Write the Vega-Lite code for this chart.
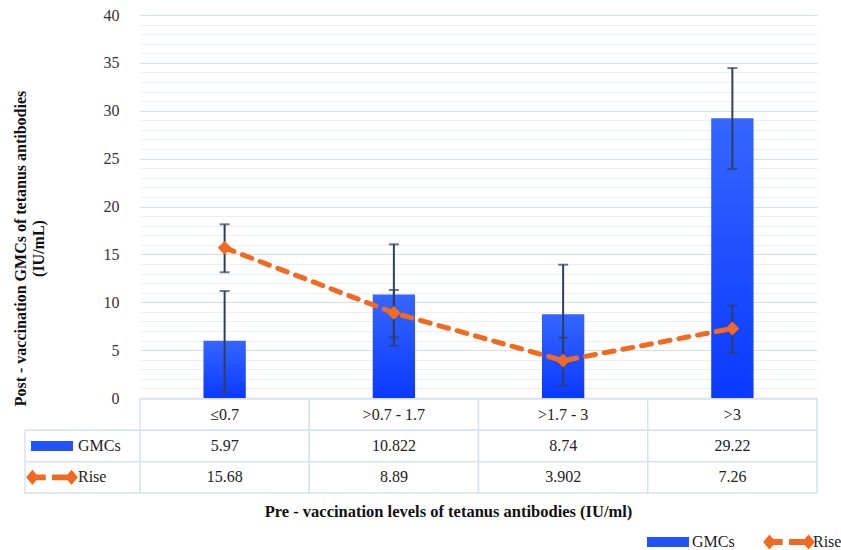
{
  "$schema": "https://vega.github.io/schema/vega-lite/v6.json",
  "width": 677,
  "height": 383,
  "autosize": {"type": "none"},
  "padding": {"left": 140, "top": 15, "right": 24, "bottom": 152},
  "background": "white",
  "config": {"view": {"stroke": null}, "font": "Liberation Serif"},
  "datasets": {
    "main": [
      {"cat": "≤0.7", "gmc": 5.97, "gmcLo": 0.6, "gmcHi": 11.17, "rise": 15.68, "riseLo": 13.13, "riseHi": 18.14},
      {"cat": ">0.7 - 1.7", "gmc": 10.822, "gmcLo": 5.46, "gmcHi": 16.05, "rise": 8.89, "riseLo": 6.34, "riseHi": 11.28},
      {"cat": ">1.7 - 3", "gmc": 8.74, "gmcLo": 3.56, "gmcHi": 13.92, "rise": 3.902, "riseLo": 1.28, "riseHi": 6.3},
      {"cat": ">3", "gmc": 29.22, "gmcLo": 23.92, "gmcHi": 34.46, "rise": 7.26, "riseLo": 4.67, "riseHi": 9.64}
    ],
    "cells": [
      {"cat": "≤0.7", "row": "Header", "label": "≤0.7"},
      {"cat": ">0.7 - 1.7", "row": "Header", "label": ">0.7 - 1.7"},
      {"cat": ">1.7 - 3", "row": "Header", "label": ">1.7 - 3"},
      {"cat": ">3", "row": "Header", "label": ">3"},
      {"cat": "≤0.7", "row": "GMCs", "label": "5.97"},
      {"cat": ">0.7 - 1.7", "row": "GMCs", "label": "10.822"},
      {"cat": ">1.7 - 3", "row": "GMCs", "label": "8.74"},
      {"cat": ">3", "row": "GMCs", "label": "29.22"},
      {"cat": "≤0.7", "row": "Rise", "label": "15.68"},
      {"cat": ">0.7 - 1.7", "row": "Rise", "label": "8.89"},
      {"cat": ">1.7 - 3", "row": "Rise", "label": "3.902"},
      {"cat": ">3", "row": "Rise", "label": "7.26"}
    ],
    "keys": [
      {"col": "key", "row": "GMCs", "series": "GMCs"},
      {"col": "key", "row": "Rise", "series": "Rise"}
    ]
  },
  "layer": [
    {
      "data": {"name": "main"},
      "layer": [
        {
          "mark": {
            "type": "bar",
            "width": {"band": 0.25},
            "color": {"gradient": "linear", "x1": 0, "y1": 0, "x2": 0, "y2": 1,
              "stops": [{"offset": 0, "color": "#3566ff"}, {"offset": 1, "color": "#0a39ff"}]}
          },
          "encoding": {
            "x": {
              "field": "cat", "type": "nominal", "sort": null,
              "scale": {"domain": ["≤0.7", ">0.7 - 1.7", ">1.7 - 3", ">3"], "paddingInner": 0, "paddingOuter": 0},
              "axis": {
                "title": "Pre - vaccination levels of tetanus antibodies (IU/ml)",
                "labels": false, "ticks": false, "domain": true, "domainColor": "#d6e0ea", "domainWidth": 1.5,
                "grid": false,
                "titleFont": "Liberation Serif", "titleFontSize": 16.5, "titleFontWeight": "bold", "titleColor": "#111",
                "titleX": 308, "titleY": 105, "titleAlign": "center", "titleBaseline": "top"
              }
            },
            "y": {
              "field": "gmc", "type": "quantitative",
              "scale": {"domain": [0, 40], "nice": false},
              "axis": {
                "values": [0,1,2,3,4,5,6,7,8,9,10,11,12,13,14,15,16,17,18,19,20,21,22,23,24,25,26,27,28,29,30,31,32,33,34,35,36,37,38,39,40],
                "tickCount": 60,
                "format": "d",
                "labelExpr": "datum.value % 5 === 0 ? datum.label : ''",
                "labelOverlap": false,
                "domain": false, "ticks": false, "labelPadding": 21,
                "labelFont": "Liberation Serif", "labelFontSize": 16, "labelColor": "#333",
                "gridColor": {"condition": {"test": "datum.value % 5 === 0", "value": "#d3e0ea"}, "value": "#eaf0f5"},
                "gridWidth": 1,
                "title": ["Post - vaccination GMCs of tetanus antibodies", "(IU/mL)"],
                "titleFont": "Liberation Serif", "titleFontSize": 16, "titleFontWeight": "bold", "titleColor": "#111",
                "titleAngle": -90, "titleX": -112, "titleY": 233, "titleAlign": "center", "titleBaseline": "bottom", "titleLineHeight": 18
              }
            }
          }
        },
        {
          "mark": {"type": "rule", "color": "#2e3f5e", "strokeWidth": 2},
          "encoding": {
            "x": {"field": "cat", "type": "nominal", "sort": null},
            "y": {"field": "gmcLo", "type": "quantitative"},
            "y2": {"field": "gmcHi"}
          }
        },
        {
          "mark": {"type": "tick", "orient": "horizontal", "size": 10, "thickness": 2, "color": "#2e3f5e"},
          "encoding": {
            "x": {"field": "cat", "type": "nominal", "sort": null},
            "y": {"field": "gmcLo", "type": "quantitative"}
          }
        },
        {
          "mark": {"type": "tick", "orient": "horizontal", "size": 10, "thickness": 2, "color": "#2e3f5e"},
          "encoding": {
            "x": {"field": "cat", "type": "nominal", "sort": null},
            "y": {"field": "gmcHi", "type": "quantitative"}
          }
        },
        {
          "mark": {"type": "rule", "color": "#2e3f5e", "strokeWidth": 2},
          "encoding": {
            "x": {"field": "cat", "type": "nominal", "sort": null},
            "y": {"field": "riseLo", "type": "quantitative"},
            "y2": {"field": "riseHi"}
          }
        },
        {
          "mark": {"type": "tick", "orient": "horizontal", "size": 10, "thickness": 2, "color": "#2e3f5e"},
          "encoding": {
            "x": {"field": "cat", "type": "nominal", "sort": null},
            "y": {"field": "riseLo", "type": "quantitative"}
          }
        },
        {
          "mark": {"type": "tick", "orient": "horizontal", "size": 10, "thickness": 2, "color": "#2e3f5e"},
          "encoding": {
            "x": {"field": "cat", "type": "nominal", "sort": null},
            "y": {"field": "riseHi", "type": "quantitative"}
          }
        },
        {
          "mark": {"type": "line", "color": "#F26A1F", "strokeWidth": 5, "strokeDash": [10, 9], "strokeCap": "round"},
          "encoding": {
            "x": {"field": "cat", "type": "nominal", "sort": null},
            "y": {"field": "rise", "type": "quantitative"}
          }
        },
        {
          "mark": {"type": "point", "shape": "diamond", "filled": true, "size": 190, "color": "#F26A1F", "opacity": 1},
          "encoding": {
            "x": {"field": "cat", "type": "nominal", "sort": null},
            "y": {"field": "rise", "type": "quantitative"}
          }
        }
      ]
    },
    {
      "data": {"name": "cells"},
      "layer": [
        {
          "mark": {"type": "rect", "fill": "white", "stroke": "#d8e3ec", "strokeWidth": 1.5},
          "encoding": {
            "x": {"field": "cat", "type": "nominal", "sort": null,
              "scale": {"domain": ["≤0.7", ">0.7 - 1.7", ">1.7 - 3", ">3"], "paddingInner": 0, "paddingOuter": 0}, "axis": null},
            "y": {"field": "row", "type": "nominal", "sort": null,
              "scale": {"domain": ["Header", "GMCs", "Rise"], "range": [384, 478], "paddingInner": 0, "paddingOuter": 0}, "axis": null}
          }
        },
        {
          "mark": {"type": "text", "fontSize": 16, "font": "Liberation Serif", "color": "#222", "baseline": "middle", "align": "center"},
          "encoding": {
            "x": {"field": "cat", "type": "nominal", "sort": null},
            "y": {"field": "row", "type": "nominal", "sort": null},
            "text": {"field": "label"}
          }
        }
      ]
    },
    {
      "data": {"name": "keys"},
      "layer": [
        {
          "mark": {"type": "rect", "fill": "white", "stroke": "#d8e3ec", "strokeWidth": 1.5},
          "encoding": {
            "x": {"field": "col", "type": "nominal",
              "scale": {"domain": ["key"], "range": [-115, 0], "paddingInner": 0, "paddingOuter": 0}, "axis": null},
            "y": {"field": "row", "type": "nominal", "sort": null,
              "scale": {"domain": ["Header", "GMCs", "Rise"], "range": [384, 478], "paddingInner": 0, "paddingOuter": 0}, "axis": null}
          }
        },
        {
          "mark": {"type": "point", "filled": true, "opacity": 1, "size": 1764, "xOffset": -30.5, "strokeWidth": 0},
          "encoding": {
            "x": {"field": "col", "type": "nominal"},
            "y": {"field": "row", "type": "nominal", "sort": null},
            "color": {
              "field": "series", "type": "nominal",
              "scale": {"domain": ["GMCs", "Rise"], "range": ["#2152ff", "#F26A1F"]},
              "legend": {"orient": "none", "legendX": 507, "legendY": 506, "direction": "horizontal", "title": null,
                "symbolSize": 1764, "labelFont": "Liberation Serif", "labelFontSize": 16, "labelColor": "#222",
                "labelOffset": 3, "columnPadding": 28, "symbolStrokeWidth": 0, "symbolOpacity": 1, "padding": 0}
            },
            "shape": {
              "field": "series", "type": "nominal",
              "scale": {"domain": ["GMCs", "Rise"], "range": [
                "M-1,-0.24H1V0.24H-1Z",
                "M-1.23,0L-0.93,-0.36L-0.63,0L-0.93,0.36Z M-0.93,-0.14H-0.3V0.14H-0.93Z M0,-0.14H0.93V0.14H0Z M0.63,0L0.93,-0.36L1.23,0L0.93,0.36Z"
              ]},
              "legend": {"orient": "none", "legendX": 507, "legendY": 506, "direction": "horizontal", "title": null,
                "symbolSize": 1764, "labelFont": "Liberation Serif", "labelFontSize": 16, "labelColor": "#222",
                "labelOffset": 3, "columnPadding": 28, "symbolStrokeWidth": 0, "symbolOpacity": 1, "padding": 0}
            }
          }
        },
        {
          "mark": {"type": "text", "fontSize": 16, "font": "Liberation Serif", "color": "#222", "baseline": "middle", "align": "left", "dx": -4.5},
          "encoding": {
            "x": {"field": "col", "type": "nominal"},
            "y": {"field": "row", "type": "nominal", "sort": null},
            "text": {"field": "series"}
          }
        }
      ]
    }
  ],
  "resolve": {"scale": {"x": "independent", "y": "independent"}}
}
